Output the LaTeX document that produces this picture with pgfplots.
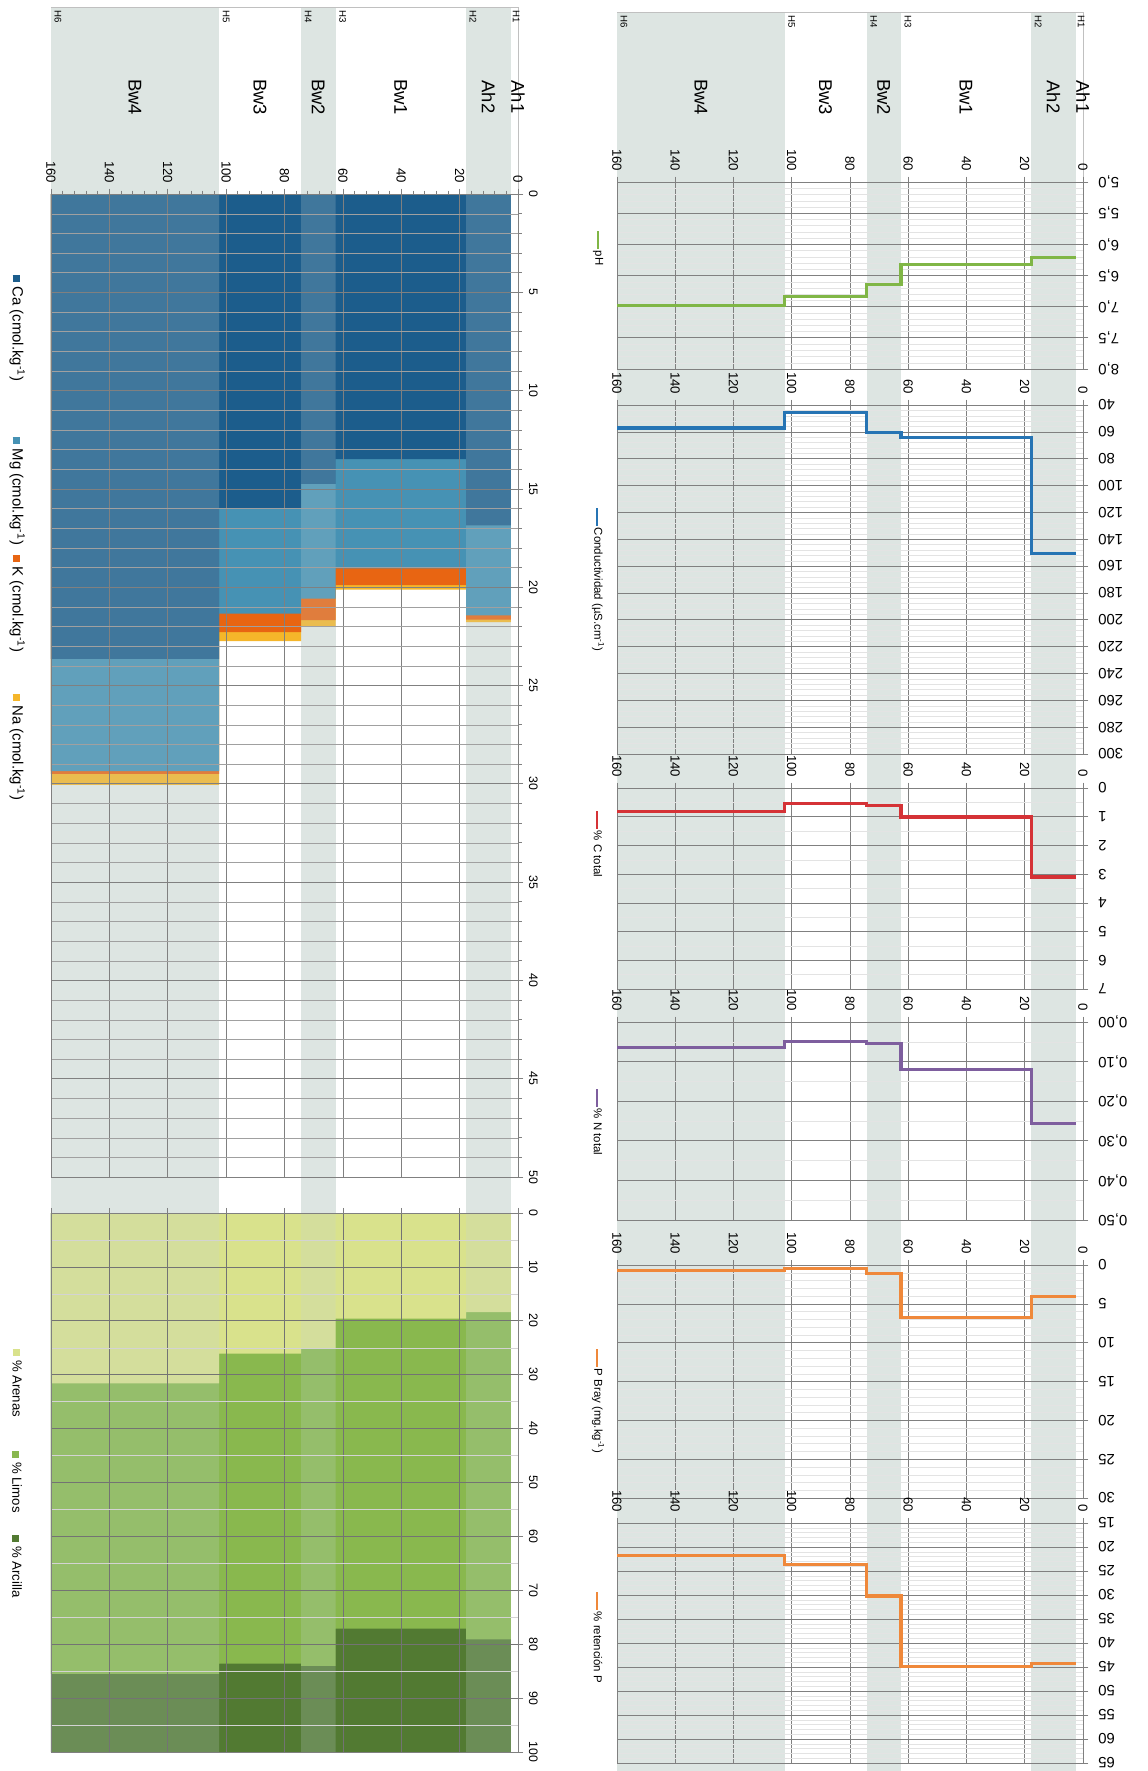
\documentclass[border=0pt]{standalone}
\usepackage{fontspec}
\setmainfont{Liberation Sans}
\usepackage{pgfplots}
\usepackage{pgfplotstable}
\pgfplotsset{compat=1.18}

\definecolor{band}{RGB}{221,229,226}
\definecolor{bandov}{RGB}{196,212,214}
\definecolor{gridc}{RGB}{128,128,128}
\definecolor{phc}{RGB}{128,182,70}
\definecolor{condc}{RGB}{38,116,180}
\definecolor{cc}{RGB}{213,50,54}
\definecolor{nc}{RGB}{126,94,158}
\definecolor{pc}{RGB}{239,136,58}
\definecolor{cac}{RGB}{28,93,140}
\definecolor{mgc}{RGB}{70,146,180}
\definecolor{kc}{RGB}{232,101,18}
\definecolor{nac}{RGB}{245,182,42}
\definecolor{sandc}{RGB}{217,226,140}
\definecolor{siltc}{RGB}{137,184,78}
\definecolor{clayc}{RGB}{82,122,50}

% step profiles: value holds from this depth down to the next row
\pgfplotstableread{
depth pH   cond  C    N     P   ret
2.4   6.21 150.5 3.10 0.256 4.0 44.2
17.8  6.33 64.4  1.01 0.120 6.8 44.9
62.5  6.65 60.6  0.60 0.055 1.1 30.2
74.3  6.84 45.5  0.53 0.049 0.5 23.7
102.4 6.98 57.1  0.82 0.065 0.7 21.7
160   6.98 57.1  0.82 0.065 0.7 21.7
}\profile

% cumulative cations (cmol/kg): Ca, +Mg, +K, +Na; ov = total of shaded horizons
\pgfplotstableread{
depth Ca    Mg    K     Na    ov
2.4   16.85 21.43 21.65 21.77 21.77
17.8  13.48 19.04 19.89 20.12 0
62.5  14.74 20.58 21.68 22.02 22.02
74.3  15.98 21.34 22.28 22.74 0
102.4 23.64 29.35 29.50 30.05 30.05
160   0     0     0     0     0
}\cations

% cumulative texture (%): arenas, +limos, +arcilla
\pgfplotstableread{
depth ar   li   ac  ov
2.4   18.4 79.1 100 100
17.8  19.6 77.1 100 0
62.5  25.0 84.0 100 100
74.3  26.1 83.6 100 0
102.4 31.6 85.5 100 100
160   0    0    0   0
}\texture

\tikzset{
  hz/.style={rotate=-90, font=\fontsize{10.5}{12}\selectfont},
  hl/.style={rotate=-90, anchor=west, inner sep=1pt, font=\fontsize{5.5}{6}\selectfont},
  lg/.style={rotate=-90, anchor=west, inner sep=0pt, font=\fontsize{6.5}{7}\selectfont},
  lgb/.style={rotate=-90, anchor=west, inner sep=0pt, font=\fontsize{8.5}{9}\selectfont},
  lgt/.style={rotate=-90, anchor=west, inner sep=0pt, font=\fontsize{7.5}{8}\selectfont},
}

\pgfplotsset{
  bg/.style={scale only axis, anchor=center, x dir=reverse, y dir=reverse,
    xmin=0, xmax=160, hide axis, clip=false},
  base/.style={scale only axis, anchor=center, x dir=reverse, y dir=reverse,
    xmin=0, xmax=160, xtick={0,20,...,160},
    tick pos=right, xticklabel pos=upper, yticklabel pos=right,
    tick align=outside, major tick length=3pt, minor tick length=0pt,
    axis line style={gridc}, tick style={gridc, thin},
    xmajorgrids, ymajorgrids, yminorgrids,
    major grid style={gridc, thin}, minor grid style={gray!22, very thin},
    scaled ticks=false,
    /pgf/number format/assume math mode=true,
    /pgf/number format/use comma,
    xticklabel style={rotate=-90, anchor=east, inner sep=3pt,
      font=\fontsize{7.5}{8}\selectfont},
  },
  lp/.style={base, width=93.2mm,
    yticklabel style={rotate=180, anchor=east, inner sep=5.5pt,
      font=\fontsize{8.5}{9}\selectfont}},
  stp/.style={const plot mark left, line width=1.8pt, mark=none},
}

\begin{document}
\begin{tikzpicture}
\useasboundingbox (0,0) rectangle (229.4mm,-354.2mm);

% ---------- horizon bands, right half ----------
\begin{axis}[bg, at={(170mm,-178.3mm)}, width=93.2mm, height=351.8mm, ymin=12, ymax=1771]
\addplot[fill=band, draw=none] coordinates {(2.4,12) (17.8,12) (17.8,1771) (2.4,1771)} --cycle;
\addplot[fill=band, draw=none] coordinates {(62.5,12) (74.3,12) (74.3,1771) (62.5,1771)} --cycle;
\addplot[fill=band, draw=none] coordinates {(102.4,12) (160,12) (160,1771) (102.4,1771)} --cycle;
\addplot[gridc!50, thin] coordinates {(160,12) (0,12) (0,182)};
\node[hz] at (axis cs:0,97) {Ah1};
\node[hz] at (axis cs:10.1,97) {Ah2};
\node[hz] at (axis cs:40.2,97) {Bw1};
\node[hz] at (axis cs:68.4,97) {Bw2};
\node[hz] at (axis cs:88.4,97) {Bw3};
\node[hz] at (axis cs:131.2,97) {Bw4};
\node[hl] at (axis cs:0.6,13) {H1};
\node[hl] at (axis cs:15.4,13) {H2};
\node[hl] at (axis cs:60.1,13) {H3};
\node[hl] at (axis cs:71.9,13) {H4};
\node[hl] at (axis cs:100,13) {H5};
\node[hl] at (axis cs:157.6,13) {H6};
\node[lg] at (axis cs:166.5,231) {\textcolor{phc}{\rule[0.3ex]{10pt}{1.3pt}}\,pH};
\node[lg] at (axis cs:166.5,508) {\textcolor{condc}{\rule[0.3ex]{10pt}{1.3pt}}\,Conductividad (µS.cm\textsuperscript{-1})};
\node[lg] at (axis cs:166.5,811) {\textcolor{cc}{\rule[0.3ex]{10pt}{1.3pt}}\,\% C total};
\node[lg] at (axis cs:166.5,1089) {\textcolor{nc}{\rule[0.3ex]{10pt}{1.3pt}}\,\% N total};
\node[lg] at (axis cs:166.5,1349) {\textcolor{pc}{\rule[0.3ex]{10pt}{1.3pt}}\,P Bray (mg.kg\textsuperscript{-1})};
\node[lg] at (axis cs:166.5,1592) {\textcolor{pc}{\rule[0.3ex]{10pt}{1.3pt}}\,\% retención P};
\end{axis}

% ---------- horizon bands, left half ----------
\begin{axis}[bg, at={(56.9mm,-175.9mm)}, width=93.4mm, height=349mm, ymin=7, ymax=1752]
\addplot[fill=band, draw=none] coordinates {(2.4,7) (17.8,7) (17.8,1752) (2.4,1752)} --cycle;
\addplot[fill=band, draw=none] coordinates {(62.5,7) (74.3,7) (74.3,1752) (62.5,1752)} --cycle;
\addplot[fill=band, draw=none] coordinates {(102.4,7) (160,7) (160,1752) (102.4,1752)} --cycle;
\addplot[gridc!50, thin] coordinates {(160,7) (0,7) (0,194)};
\node[hz] at (axis cs:0,97) {Ah1};
\node[hz] at (axis cs:10.1,97) {Ah2};
\node[hz] at (axis cs:40.2,97) {Bw1};
\node[hz] at (axis cs:68.4,97) {Bw2};
\node[hz] at (axis cs:88.4,97) {Bw3};
\node[hz] at (axis cs:131.2,97) {Bw4};
\node[hl] at (axis cs:0.6,8) {H1};
\node[hl] at (axis cs:15.4,8) {H2};
\node[hl] at (axis cs:60.1,8) {H3};
\node[hl] at (axis cs:71.9,8) {H4};
\node[hl] at (axis cs:100,8) {H5};
\node[hl] at (axis cs:157.6,8) {H6};
\node[lgb] at (axis cs:171.6,275) {\textcolor{cac}{\rule{4pt}{4pt}}\ Ca (cmol.kg\textsuperscript{-1})};
\node[lgb] at (axis cs:171.6,437) {\textcolor{mgc}{\rule{4pt}{4pt}}\ Mg (cmol.kg\textsuperscript{-1})};
\node[lgb] at (axis cs:171.6,555) {\textcolor{kc}{\rule{4pt}{4pt}}\ K (cmol.kg\textsuperscript{-1})};
\node[lgb] at (axis cs:171.6,694) {\textcolor{nac}{\rule{4pt}{4pt}}\ Na (cmol.kg\textsuperscript{-1})};
\node[lgt] at (axis cs:171.6,1349) {\textcolor{sandc}{\rule{4pt}{4pt}}\ \% Arenas};
\node[lgt] at (axis cs:171.6,1451) {\textcolor{siltc}{\rule{4pt}{4pt}}\ \% Limos};
\node[lgt] at (axis cs:171.6,1535) {\textcolor{clayc}{\rule{4pt}{4pt}}\ \% Arcilla};
\end{axis}

% ---------- pH ----------
\begin{axis}[lp, at={(170mm,-55.1mm)}, height=37.4mm,
  ymin=5, ymax=8, ytick={5,5.5,...,8}, minor tick num=4,
  yticklabel style={/pgf/number format/fixed, /pgf/number format/fixed zerofill, /pgf/number format/precision=1}]
\addplot[stp, phc] table[x=depth, y=pH] {\profile};
\end{axis}

% ---------- Conductividad ----------
\begin{axis}[lp, at={(170mm,-115.9mm)}, height=69.8mm,
  ymin=40, ymax=300, ytick={40,60,...,300}, minor tick num=4]
\addplot[stp, condc] table[x=depth, y=cond] {\profile};
\end{axis}

% ---------- % C total ----------
\begin{axis}[lp, at={(170mm,-177.7mm)}, height=40.2mm,
  ymin=0, ymax=7, ytick={0,1,...,7}, minor tick num=1]
\addplot[stp, cc] table[x=depth, y=C] {\profile};
\end{axis}

% ---------- % N total ----------
\begin{axis}[lp, at={(170mm,-224.2mm)}, height=39.6mm,
  ymin=0, ymax=0.5, ytick={0,0.1,...,0.5}, minor tick num=1,
  yticklabel style={/pgf/number format/fixed, /pgf/number format/fixed zerofill, /pgf/number format/precision=2}]
\addplot[stp, nc] table[x=depth, y=N] {\profile};
\end{axis}

% ---------- P Bray ----------
\begin{axis}[lp, at={(170mm,-276.3mm)}, height=46.6mm,
  ymin=0, ymax=30, ytick={0,5,...,30}, minor tick num=4]
\addplot[stp, pc] table[x=depth, y=P] {\profile};
\end{axis}

% ---------- % retencion P ----------
\begin{axis}[lp, at={(170mm,-328.6mm)}, height=48mm,
  ymin=15, ymax=65, ytick={15,20,...,65}, minor tick num=4]
\addplot[stp, pc] table[x=depth, y=ret] {\profile};
\end{axis}

% ---------- cations ----------
\begin{axis}[base, at={(56.9mm,-137.1mm)}, width=93.4mm, height=196.6mm,
  ymin=0, ymax=50, ytick={0,5,...,50}, minor tick num=4, minor tick length=2pt,
  minor grid style={gridc!75, very thin}, major grid style={gridc, thin},
  axis on top,
  yticklabel style={rotate=-90, anchor=south, inner sep=3pt, font=\fontsize{7}{8}\selectfont}]
\addplot[ybar interval, fill=nac, draw=none] table[x=depth, y=Na] {\cations};
\addplot[ybar interval, fill=kc, draw=none] table[x=depth, y=K] {\cations};
\addplot[ybar interval, fill=mgc, draw=none] table[x=depth, y=Mg] {\cations};
\addplot[ybar interval, fill=cac, draw=none] table[x=depth, y=Ca] {\cations};
\addplot[ybar interval, fill=bandov, fill opacity=0.22, draw=none] table[x=depth, y=ov] {\cations};
\end{axis}

% ---------- texture ----------
\begin{axis}[base, at={(56.9mm,-296.5mm)}, width=93.4mm, height=107.8mm,
  ymin=0, ymax=100, ytick={0,10,...,100}, minor tick num=1,
  minor grid style={gridc!35, very thin}, major grid style={gridc!90!black, thin},
  xticklabels={}, axis on top,
  yticklabel style={rotate=-90, anchor=south, inner sep=3pt, font=\fontsize{7}{8}\selectfont}]
\addplot[ybar interval, fill=clayc, draw=none] table[x=depth, y=ac] {\texture};
\addplot[ybar interval, fill=siltc, draw=none] table[x=depth, y=li] {\texture};
\addplot[ybar interval, fill=sandc, draw=none] table[x=depth, y=ar] {\texture};
\addplot[ybar interval, fill=bandov, fill opacity=0.22, draw=none] table[x=depth, y=ov] {\texture};
\end{axis}
\end{tikzpicture}
\end{document}
